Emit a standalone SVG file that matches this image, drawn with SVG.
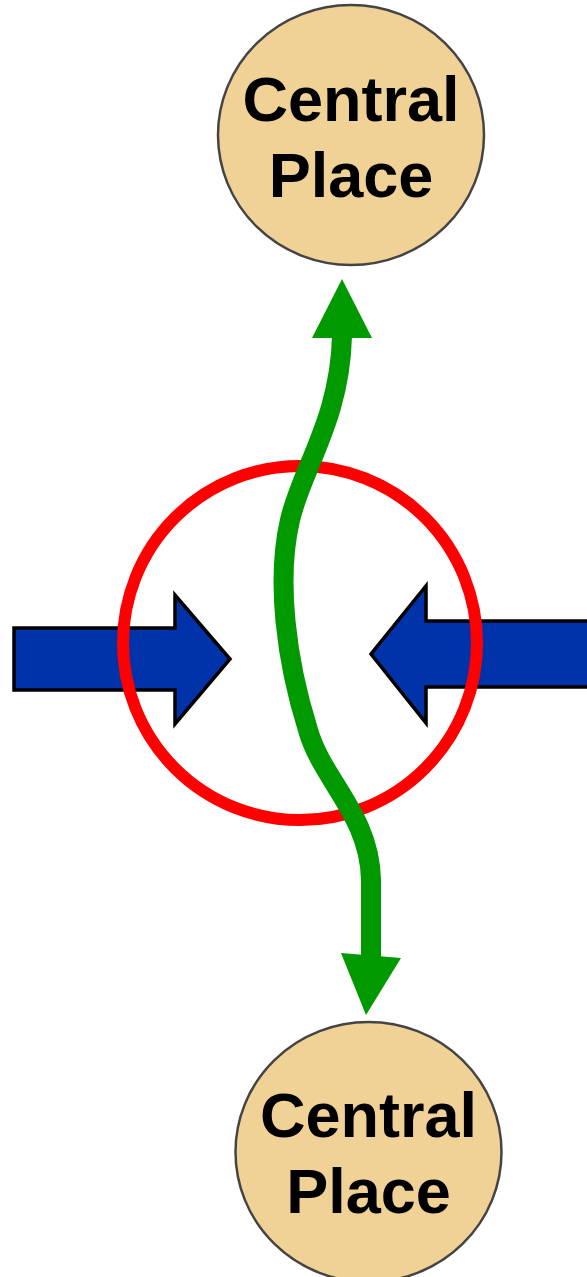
<svg xmlns="http://www.w3.org/2000/svg" width="587" height="1277" viewBox="0 0 587 1277">
<style>
.place{fill:#F0D296;stroke:#444;stroke-width:2.5}
.lbl{font-family:"Liberation Sans",Arial,sans-serif;font-weight:bold;font-size:63px;fill:#000;text-anchor:middle}
.blue{fill:#0033AA;stroke:#000;stroke-width:3.5;stroke-linejoin:miter}
.green{fill:none;stroke:#009900;stroke-width:20}
.head{fill:#009900}
</style>
<rect width="587" height="1277" fill="#fff"/>
<g id="central-top">
<ellipse class="place" cx="351" cy="135" rx="133" ry="130"/>
<text class="lbl" x="351" y="121">Central</text>
<text class="lbl" x="351" y="197">Place</text>
</g>
<g id="central-bottom">
<ellipse class="place" cx="368.5" cy="1152" rx="133" ry="130"/>
<text class="lbl" x="368.5" y="1137">Central</text>
<text class="lbl" x="368.5" y="1213">Place</text>
</g>
<g id="connectors">
<path class="blue" d="M14,628 L175,628 L175,595 L230,659 L175,724 L175,690 L14,690 Z"/>
<path class="blue" d="M600,621 L426,621 L426,586 L371,654 L426,723 L426,687 L600,687 Z"/>
</g>
<g id="ring"><circle cx="300" cy="643" r="177" fill="none" stroke="#FF0000" stroke-width="12"/></g>
<g id="flow">
<path class="green" d="M342,336 C340,420 302,468 290,520 C276,580 286,660 308,730 C322,780 370,815 371,880 L371,957"/>
<polygon class="head" points="342,279 372,338 312,338"/>
<polygon class="head" points="341,953 401,958 366,1015"/>
</g>
</svg>
